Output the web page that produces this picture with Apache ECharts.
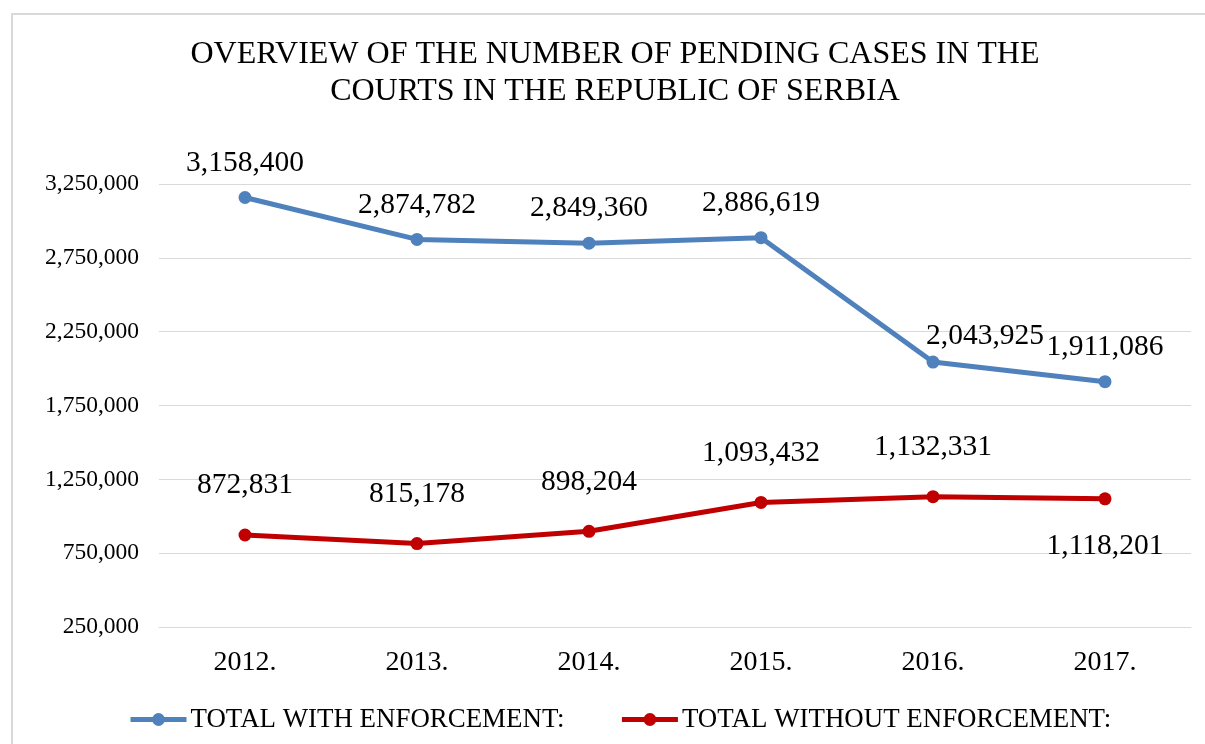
<!DOCTYPE html>
<html>
<head>
<meta charset="utf-8">
<script src="https://cdn.jsdelivr.net/npm/echarts@6/dist/echarts.min.js"></script>
<style>
  html, body { margin: 0; padding: 0; background: #fff; overflow: hidden; }
  #frame { position: absolute; left: 11px; top: 13px; width: 1400px; height: 900px; border: 2px solid #d9d9d9; box-sizing: border-box; }
  #main { position: absolute; left: 0; top: 0; width: 1205px; height: 744px; }
</style>
</head>
<body>
<div id="frame"></div>
<div id="main"></div>
<script>
// values
const years = ['2012.', '2013.', '2014.', '2015.', '2016.', '2017.'];
const withEnforcement = [3158400, 2874782, 2849360, 2886619, 2043925, 1911086];
const withoutEnforcement = [872831, 815178, 898204, 1093432, 1132331, 1118201];

const serif = '"Liberation Serif", "Times New Roman", serif';
const fmt = v => v.toLocaleString('en-US');

const chart = echarts.init(document.getElementById('main'), null, { renderer: 'canvas' });

const labelStyle = {
    show: true,
    fontFamily: serif,
    fontSize: 29.5,
    color: '#000',
    formatter: p => fmt(p.value)
};

chart.setOption({
    animation: false,
    backgroundColor: 'transparent',
    title: {
        text: 'OVERVIEW OF THE NUMBER OF PENDING CASES IN THE\nCOURTS IN THE REPUBLIC OF SERBIA',
        left: 610,
        top: 31,
        textAlign: 'center',
        textStyle: { fontFamily: serif, fontSize: 32, fontWeight: 'normal', color: '#000', lineHeight: 37 }
    },
    legend: {
        bottom: 6,
        left: 123,
        itemWidth: 56,
        itemHeight: 16,
        itemGap: 55,
        lineStyle: { width: 5 },
        textStyle: { fontFamily: serif, fontSize: 26.9, color: '#000', padding: [0, 0, 0, -1] },
        data: ['TOTAL WITH ENFORCEMENT:', 'TOTAL WITHOUT ENFORCEMENT:']
    },
    grid: { left: 159, right: 14, top: 184, bottom: 117 },
    xAxis: {
        type: 'category',
        data: years,
        boundaryGap: true,
        axisLine: { lineStyle: { color: '#d9d9d9', width: 1 } },
        axisTick: { show: false },
        axisLabel: { fontFamily: serif, fontSize: 28, color: '#000', margin: 22 }
    },
    yAxis: {
        type: 'value',
        min: 250000,
        max: 3250000,
        interval: 500000,
        axisLine: { show: false },
        axisTick: { show: false },
        splitLine: { lineStyle: { color: '#d9d9d9', width: 1 } },
        axisLabel: { fontFamily: serif, fontSize: 23.5, color: '#000', margin: 20, formatter: v => fmt(v) }
    },
    series: [
        {
            name: 'TOTAL WITH ENFORCEMENT:',
            type: 'line',
            // the 2016 label sits to the right of its point in the original
            data: withEnforcement.map((v, i) => i === 4
                ? { value: v, label: { offset: [52, 9] } }
                : v),
            symbol: 'circle',
            symbolSize: 13,
            lineStyle: { width: 5, color: '#4f81bd' },
            itemStyle: { color: '#4f81bd' },
            label: Object.assign({ position: 'top', distance: 13 }, labelStyle)
        },
        {
            name: 'TOTAL WITHOUT ENFORCEMENT:',
            type: 'line',
            data: withoutEnforcement.map((v, i) => i === withoutEnforcement.length - 1
                ? { value: v, label: { position: 'bottom', distance: 26 } }
                : v),
            symbol: 'circle',
            symbolSize: 13,
            lineStyle: { width: 5, color: '#c00000' },
            itemStyle: { color: '#c00000' },
            label: Object.assign({ position: 'top', distance: 28 }, labelStyle)
        }
    ]
});
</script>
</body>
</html>
